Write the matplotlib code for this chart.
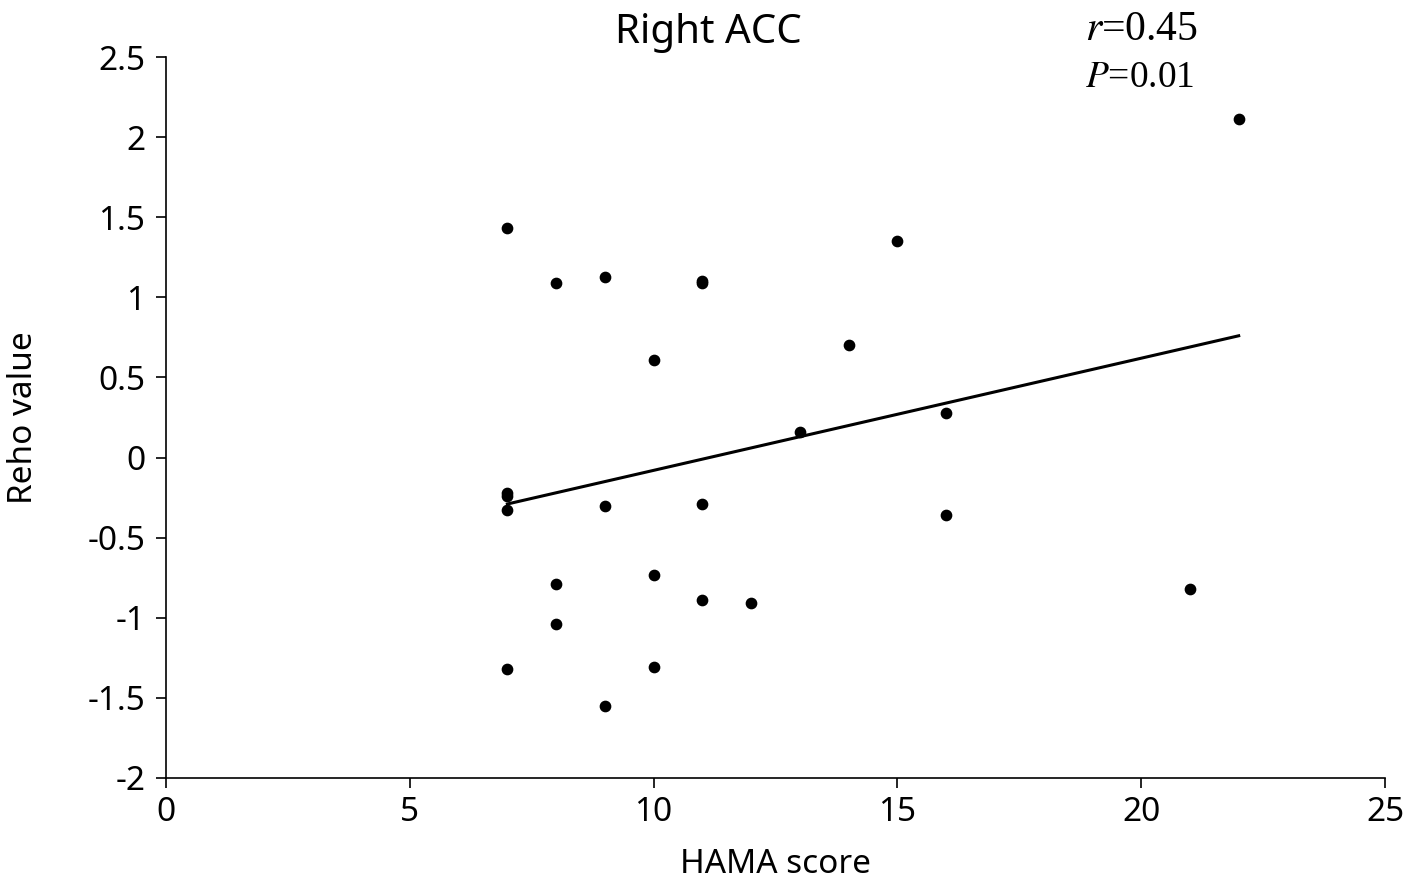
import matplotlib.pyplot as plt
import numpy as np

# HAMA score vs Reho value
hama = [7, 7, 7, 7, 7, 8, 8, 8, 9, 9, 9, 10, 10, 10,
        11, 11, 11, 11, 12, 13, 14, 15, 16, 16, 21, 22]
reho = [1.43, -0.22, -0.24, -0.33, -1.32, 1.09, -0.79, -1.04, 1.13, -0.30, -1.55,
        0.61, -0.73, -1.31, 1.10, 1.09, -0.29, -0.89, -0.91, 0.16, 0.70, 1.35,
        0.28, -0.36, -0.82, 2.11]
trend_x = [7, 22]
trend_y = [-0.29, 0.76]

xticks = [0, 5, 10, 15, 20, 25]
yticks = [-2, -1.5, -1, -0.5, 0, 0.5, 1, 1.5, 2, 2.5]
ytick_labels = ["-2", "-1.5", "-1", "-0.5", "0", "0.5", "1", "1.5", "2", "2.5"]

plt.rcParams["font.family"] = ["Noto Sans", "DejaVu Sans"]

fig = plt.figure(figsize=(14.18, 8.88), dpi=100)
ax = fig.add_axes([0.1171, 0.1239, 0.8596, 0.8119])

ax.scatter(hama, reho, s=55, color="black", zorder=3)
ax.plot(trend_x, trend_y, color="black", linewidth=2.2)

ax.set_xlim(0, 25)
ax.set_ylim(-2, 2.5)
ax.set_xticks(xticks)
ax.set_yticks(yticks)
ax.set_yticklabels(ytick_labels)
ax.tick_params(labelsize=24, length=7, width=1.2, direction="out", colors="black")
ax.tick_params(axis="x", pad=6)
ax.tick_params(axis="y", pad=8)

for side in ["top", "right"]:
    ax.spines[side].set_visible(False)
for side in ["left", "bottom"]:
    ax.spines[side].set_linewidth(1.2)

ax.set_xlabel("HAMA score", fontsize=24, labelpad=14)
ax.set_ylabel("Reho value", fontsize=24, labelpad=34)
fig.text(0.4993, 0.963, "Right ACC", fontsize=29, ha="center", va="center")

fig.text(0.765, 0.966, "$r$=0.45", fontsize=30,
         family="Liberation Serif", math_fontfamily="stix", va="center", ha="left")
fig.text(0.765, 0.913, "$P$=0.01", fontsize=27,
         family="Liberation Serif", math_fontfamily="stix", va="center", ha="left")

fig.savefig("out.png", dpi=100)
